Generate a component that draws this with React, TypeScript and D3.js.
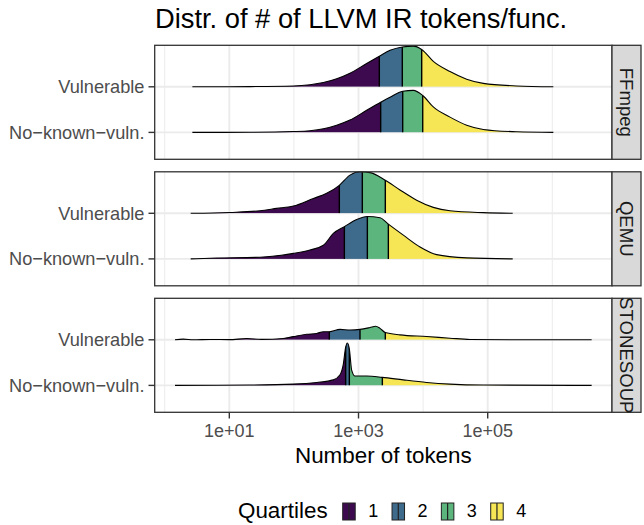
import * as d3 from "d3";

const W = 644;
const H = 525;

const projects = ["FFmpeg", "QEMU", "STONESOUP"];
const groups = ["Vulnerable", "No\u2212known\u2212vuln."];
const quartileLabels = ["1", "2", "3", "4"];
const quartileColors = ["#3E0A4F", "#3E6A8B", "#5CB57C", "#F6E655"];

// x axis in log10(tokens)
const xBreaks = [1, 3, 5];
const xMinorBreaks = [0, 2, 4, 6];
const xTickLabels = ["1e+01", "1e+03", "1e+05"];

// density outlines: [log10(tokens), height (panel max = 1)]
const ffmpegVuln = [
  [0.428, 0], [1.32, 0.005], [1.991, 0.02], [2.249, 0.05], [2.456, 0.1], [2.662, 0.19],
  [2.868, 0.32], [3.126, 0.55], [3.322, 0.72], [3.488, 0.86], [3.678, 0.94], [3.849, 0.96],
  [3.978, 0.88], [4.158, 0.6], [4.416, 0.36], [4.674, 0.18], [4.932, 0.08], [5.448, 0.02], [6.016, 0],
];
const ffmpegSafe = [
  [0.428, 0], [1.32, 0.003], [1.991, 0.02], [2.249, 0.04], [2.456, 0.085], [2.662, 0.17],
  [2.868, 0.29], [3.126, 0.52], [3.343, 0.71], [3.488, 0.83], [3.684, 0.97], [3.849, 0.99],
  [3.994, 0.87], [4.158, 0.6], [4.416, 0.36], [4.674, 0.17], [4.932, 0.07], [5.448, 0.015], [6.016, 0],
];
const qemuVuln = [
  [0.402, 0], [1.011, 0.02], [1.475, 0.06], [1.733, 0.115], [1.991, 0.17], [2.301, 0.35],
  [2.507, 0.47], [2.703, 0.66], [2.868, 0.9], [3.023, 0.98], [3.178, 0.96], [3.415, 0.78],
  [3.642, 0.55], [3.9, 0.31], [4.158, 0.14], [4.416, 0.06], [4.932, 0.015], [5.387, 0],
];
const qemuSafe = [
  [0.402, 0], [0.804, 0.02], [1.475, 0.04], [1.991, 0.13], [2.249, 0.21], [2.456, 0.32],
  [2.61, 0.6], [2.781, 0.76], [2.972, 0.93], [3.137, 1.0], [3.333, 0.97], [3.462, 0.82],
  [3.694, 0.56], [3.952, 0.28], [4.21, 0.1], [4.674, 0.025], [5.387, 0],
];
const stonesoupVuln = [
  [0.159, 0], [0.288, 0.015], [0.443, 0], [0.701, 0.008], [1.0, 0.003], [1.269, 0.03],
  [1.5, 0.01], [1.836, 0.03], [1.991, 0.075], [2.198, 0.13], [2.352, 0.15], [2.456, 0.19],
  [2.548, 0.19], [2.714, 0.245], [2.868, 0.23], [3.023, 0.245], [3.178, 0.29], [3.266, 0.32],
  [3.333, 0.27], [3.415, 0.17], [3.642, 0.115], [4.055, 0.077], [4.416, 0.038], [4.726, 0.008],
  [5.448, 0], [6.609, 0],
];
const stonesoupSafe = [
  [0.159, 0], [1.3, 0.008], [1.991, 0.03], [2.352, 0.07], [2.61, 0.13], [2.714, 0.25],
  [2.765, 0.5], [2.801, 0.9], [2.827, 1.0], [2.858, 0.86], [2.894, 0.36], [2.946, 0.22],
  [3.126, 0.22], [3.369, 0.19], [3.694, 0.13], [4.055, 0.07], [4.416, 0.03], [4.932, 0.008], [6.609, 0],
];

// quartile cut points, log10(tokens)
const ffmpegVulnQ = [3.322, 3.678, 3.978];
const ffmpegSafeQ = [3.343, 3.684, 3.994];
const qemuVulnQ = [2.703, 3.059, 3.415];
const qemuSafeQ = [2.781, 3.137, 3.462];
const stonesoupVulnQ = [2.548, 3.023, 3.415];
const stonesoupSafeQ = [2.801, 2.858, 3.369];

const ridges = [
  { project: "FFmpeg", group: groups[0], curve: ffmpegVuln, q: ffmpegVulnQ },
  { project: "FFmpeg", group: groups[1], curve: ffmpegSafe, q: ffmpegSafeQ },
  { project: "QEMU", group: groups[0], curve: qemuVuln, q: qemuVulnQ },
  { project: "QEMU", group: groups[1], curve: qemuSafe, q: qemuSafeQ },
  { project: "STONESOUP", group: groups[0], curve: stonesoupVuln, q: stonesoupVulnQ },
  { project: "STONESOUP", group: groups[1], curve: stonesoupSafe, q: stonesoupSafeQ },
];

const FONT = "'Liberation Sans', Arial, Helvetica, sans-serif";

export default function App() {
  const left = 154.7;
  const right = 612;
  const stripW = 29;

  const x = d3.scaleLog().domain([10 ** -0.155, 10 ** 6.924]).range([left, right]);
  const px = (v: number) => x(10 ** v);

  const panel = d3.scaleBand().domain(projects).range([45.3, 412.3]).paddingInner(0.0988);
  const groupPos: Record<string, number> = { [groups[0]]: 2, [groups[1]]: 1 };
  const ridgeScale = 0.93;

  const yFor = (p: string) =>
    d3.scaleLinear().domain([0.41, 2.91]).range([panel(p)! + panel.bandwidth(), panel(p)!]);

  const legendX = d3.scalePoint().domain(quartileLabels).range([342.7, 490.7]);

  return (
    <svg width={W} height={H} style={{ position: "absolute", left: 0, top: 0, fontFamily: FONT }}>
      <rect width={W} height={H} fill="#fff" />
      <text x={155} y={28} fontSize={27.3} fill="#000">Distr. of # of LLVM IR tokens/func.</text>

      {projects.map((p) => {
        const top = panel(p)!;
        const bottom = top + panel.bandwidth();
        const y = yFor(p);
        return (
          <g key={p}>
            <rect x={left} y={top} width={right - left} height={panel.bandwidth()} fill="#fff" />
            {xMinorBreaks.map((b) => (
              <line key={"mi" + b} x1={px(b)} x2={px(b)} y1={top} y2={bottom} stroke="#EBEBEB" strokeWidth={1} />
            ))}
            {xBreaks.map((b) => (
              <line key={"ma" + b} x1={px(b)} x2={px(b)} y1={top} y2={bottom} stroke="#EBEBEB" strokeWidth={1.9} />
            ))}
            {groups.map((g) => (
              <line key={g} x1={left} x2={right} y1={y(groupPos[g])} y2={y(groupPos[g])} stroke="#EBEBEB" strokeWidth={1.9} />
            ))}
            {ridges
              .filter((r) => r.project === p)
              .map((r, i) => {
                const base = y(groupPos[r.group]);
                const area = d3
                  .area<number[]>()
                  .x((d) => px(d[0]))
                  .y0(base)
                  .y1((d) => y(groupPos[r.group] + d[1] * ridgeScale))
                  .curve(d3.curveMonotoneX);
                const line = d3
                  .line<number[]>()
                  .x((d) => px(d[0]))
                  .y((d) => y(groupPos[r.group] + d[1] * ridgeScale))
                  .curve(d3.curveMonotoneX);
                const lo = r.curve[0][0];
                const hi = r.curve[r.curve.length - 1][0];
                const cuts = [lo, ...r.q, hi];
                const id = `clip-${p}-${i}`;
                return (
                  <g key={r.group}>
                    <clipPath id={id}>
                      <path d={area(r.curve as number[][]) || ""} />
                    </clipPath>
                    <g clipPath={`url(#${id})`}>
                      {quartileColors.map((c, k) => (
                        <rect key={c} x={px(cuts[k])} width={px(cuts[k + 1]) - px(cuts[k])} y={top} height={base - top} fill={c} />
                      ))}
                      {r.q.map((qv) => (
                        <line key={qv} x1={px(qv)} x2={px(qv)} y1={top} y2={base} stroke="#000" strokeWidth={1.4} />
                      ))}
                    </g>
                    <path d={line(r.curve as number[][]) || ""} fill="none" stroke="#000" strokeWidth={1.1} />
                  </g>
                );
              })}
            <rect x={left} y={top} width={right - left} height={panel.bandwidth()} fill="none" stroke="#333" strokeWidth={1.3} />
            {groups.map((g) => (
              <g key={"t" + g}>
                <line x1={148.5} x2={left} y1={y(groupPos[g])} y2={y(groupPos[g])} stroke="#333" strokeWidth={1.4} />
                <text x={144.5} y={y(groupPos[g])} dy="0.35em" textAnchor="end" fontSize={18.2} fill="#4D4D4D">{g}</text>
              </g>
            ))}
            <rect x={right} y={top} width={stripW} height={panel.bandwidth()} fill="#D9D9D9" stroke="#333" strokeWidth={1.3} />
            <text
              transform={`translate(${right + stripW / 2},${top + panel.bandwidth() / 2}) rotate(90)`}
              textAnchor="middle"
              dy="0.35em"
              fontSize={18.6}
              fill="#1A1A1A"
            >
              {p}
            </text>
          </g>
        );
      })}

      {xBreaks.map((b, i) => (
        <g key={"xt" + b}>
          <line x1={px(b)} x2={px(b)} y1={412.3} y2={418.5} stroke="#333" strokeWidth={1.4} />
          <text x={px(b)} y={437} textAnchor="middle" fontSize={18} fill="#4D4D4D">{xTickLabels[i]}</text>
        </g>
      ))}
      <text x={(left + right) / 2} y={463} textAnchor="middle" fontSize={22.4} fill="#000">Number of tokens</text>

      <text x={238} y={518} fontSize={22.4} fill="#000">Quartiles</text>
      {quartileLabels.map((q, k) => {
        const kx = legendX(q)!;
        return (
          <g key={"lg" + q}>
            <rect x={kx} y={503} width={12.5} height={17} fill={quartileColors[k]} stroke="#222" strokeWidth={1} />
            <line x1={kx + 6.25} x2={kx + 6.25} y1={503} y2={520} stroke="#222" strokeWidth={1.2} />
            <text x={kx + 25.5} y={517} fontSize={18} fill="#000">{q}</text>
          </g>
        );
      })}
    </svg>
  );
}
